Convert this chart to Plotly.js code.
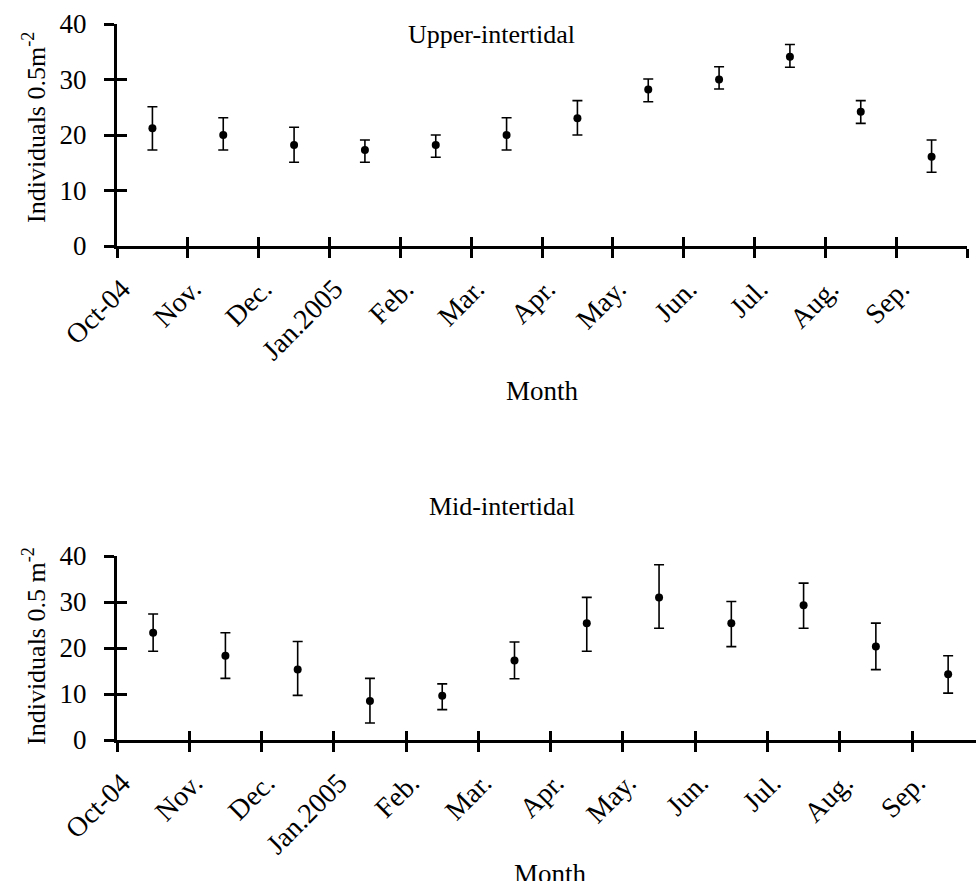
<!DOCTYPE html>
<html>
<head>
<meta charset="utf-8">
<script src="https://cdn.plot.ly/plotly-3.0.1.min.js"></script>
<style>html,body{margin:0;padding:0;background:#fff;overflow:hidden;}#chart{width:976px;height:881px;}</style>
</head>
<body>
<div id="chart"></div>
<script>
// ---- data ----
const months = ["Oct-04","Nov.","Dec.","Jan.2005","Feb.","Mar.","Apr.","May.","Jun.","Jul.","Aug.","Sep."];
const upperMean  = [21.2, 20.0, 18.2, 17.3, 18.2, 20.0, 23.0, 28.2, 30.0, 34.1, 24.2, 16.1];
const upperPlus  = [3.9, 3.1, 3.2, 1.8, 1.8, 3.1, 3.2, 1.9, 2.3, 2.2, 2.0, 3.0];
const upperMinus = [3.9, 2.7, 3.1, 2.2, 2.2, 2.7, 3.0, 2.2, 1.7, 1.9, 2.1, 2.8];
const midMean  = [23.3, 18.3, 15.3, 8.5, 9.6, 17.3, 25.4, 31.0, 25.4, 29.3, 20.3, 14.3];
const midPlus  = [4.1, 5.0, 6.1, 4.9, 2.6, 4.0, 5.6, 7.1, 4.7, 4.8, 5.1, 4.0];
const midMinus = [4.0, 4.9, 5.6, 4.8, 3.0, 4.0, 6.1, 6.7, 5.1, 5.0, 5.0, 4.1];
const yTicks = [0, 10, 20, 30, 40];

const W = 976, H = 881;
const font = "Liberation Serif";
const xMid = months.map((m, i) => i + 0.5);
const starts = months.map((m, i) => i);
const boundaries = starts.concat([months.length]);

function errTrace(y, plus, minus, xa, ya) {
  return {
    type: "scatter", mode: "markers", x: xMid, y: y, xaxis: xa, yaxis: ya,
    marker: {color: "#000", size: 8},
    error_y: {type: "data", symmetric: false, array: plus, arrayminus: minus,
              color: "#000", thickness: 1.6, width: 5},
    showlegend: false, hoverinfo: "skip"
  };
}
function dummy(xa, ya) {
  return {type: "scatter", x: [0], y: [0], xaxis: xa, yaxis: ya, mode: "markers",
          marker: {opacity: 0}, showlegend: false, hoverinfo: "skip"};
}

const baseX = (dom, range, ya) => ({
  domain: dom, range: range, anchor: ya, showgrid: false, zeroline: false,
  showline: true, linecolor: "#000", linewidth: 3,
  ticks: "outside", ticklen: 9, tickwidth: 3, tickcolor: "#000",
  tickmode: "array", tickvals: boundaries, showticklabels: false
});
const overX = (base, range, ya) => ({
  overlaying: base, range: range, anchor: ya, showgrid: false, zeroline: false,
  showline: false, ticks: "inside", ticklen: 9, tickwidth: 3, tickcolor: "#000",
  tickmode: "array", tickvals: boundaries, showticklabels: false
});
const labelX = (base, range, ya) => ({
  overlaying: base, range: range, anchor: ya, showgrid: false, zeroline: false,
  showline: false, ticks: "", tickmode: "array", tickvals: starts, ticktext: months,
  tickangle: -45, ticklabelshift: 5, ticklabelstandoff: 20,
  tickfont: {family: font, size: 28, color: "#000"}
});
const baseY = (dom, xa) => ({
  domain: dom, range: [0, 40], anchor: xa, showgrid: false, zeroline: false,
  showline: true, linecolor: "#000", linewidth: 3,
  ticks: "outside", ticklen: 10, tickwidth: 3, tickcolor: "#000",
  tickmode: "array", tickvals: yTicks, ticklabelstandoff: 12,
  tickfont: {family: font, size: 27, color: "#000"}
});
const overY = (base, xa) => ({
  overlaying: base, range: [0, 40], anchor: xa, showgrid: false, zeroline: false,
  showline: false, ticks: "inside", ticklen: 10, tickwidth: 3, tickcolor: "#000",
  tickmode: "array", tickvals: yTicks, showticklabels: false
});

const topDomX = [117 / W, 967 / W];
const botDomX = [117 / W, 1];
const topDomY = [1 - 246 / H, 1 - 24 / H];
const botDomY = [1 - 740 / H, 1 - 556 / H];
const topRange = [0, 12];
const botRange = [0, (976 - 117) / ((912 - 117) / 11)];

const data = [
  errTrace(upperMean, upperPlus, upperMinus, "x", "y"),
  errTrace(midMean, midPlus, midMinus, "x2", "y2"),
  dummy("x3", "y3"), dummy("x4", "y4"), dummy("x5", "y"), dummy("x6", "y2")
];

const ann = (text, x, y, size, angle, yanchor) => ({
  text: text, x: x / W, y: 1 - y / H, xref: "paper", yref: "paper",
  showarrow: false, xanchor: "center", yanchor: yanchor || "middle", textangle: angle || 0,
  font: {family: font, size: size, color: "#000"}
});

const layout = {
  width: W, height: H, margin: {l: 0, r: 0, t: 0, b: 0},
  font: {family: font, color: "#000"},
  paper_bgcolor: "#fff", plot_bgcolor: "rgba(0,0,0,0)",
  xaxis: baseX(topDomX, topRange, "y"),
  yaxis: baseY(topDomY, "x"),
  xaxis2: baseX(botDomX, botRange, "y2"),
  yaxis2: baseY(botDomY, "x2"),
  xaxis3: overX("x", topRange, "y"),
  yaxis3: overY("y", "x"),
  xaxis4: overX("x2", botRange, "y2"),
  yaxis4: overY("y2", "x2"),
  xaxis5: labelX("x", topRange, "y"),
  xaxis6: labelX("x2", botRange, "y2"),
  annotations: [
    ann("Upper-intertidal", 492, 35, 26),
    ann("Month", 542, 391, 27),
    ann("Mid-intertidal", 502, 507, 26),
    ann("Month", 550, 857, 27, 0, "top"),
    ann("Individuals 0.5m<sup>-2</sup>", 34, 128, 26, -90),
    ann("Individuals 0.5 m<sup>-2</sup>", 34, 646, 26, -90)
  ]
};

Plotly.newPlot("chart", data, layout, {staticPlot: true, displayModeBar: false});
</script>
</body>
</html>
